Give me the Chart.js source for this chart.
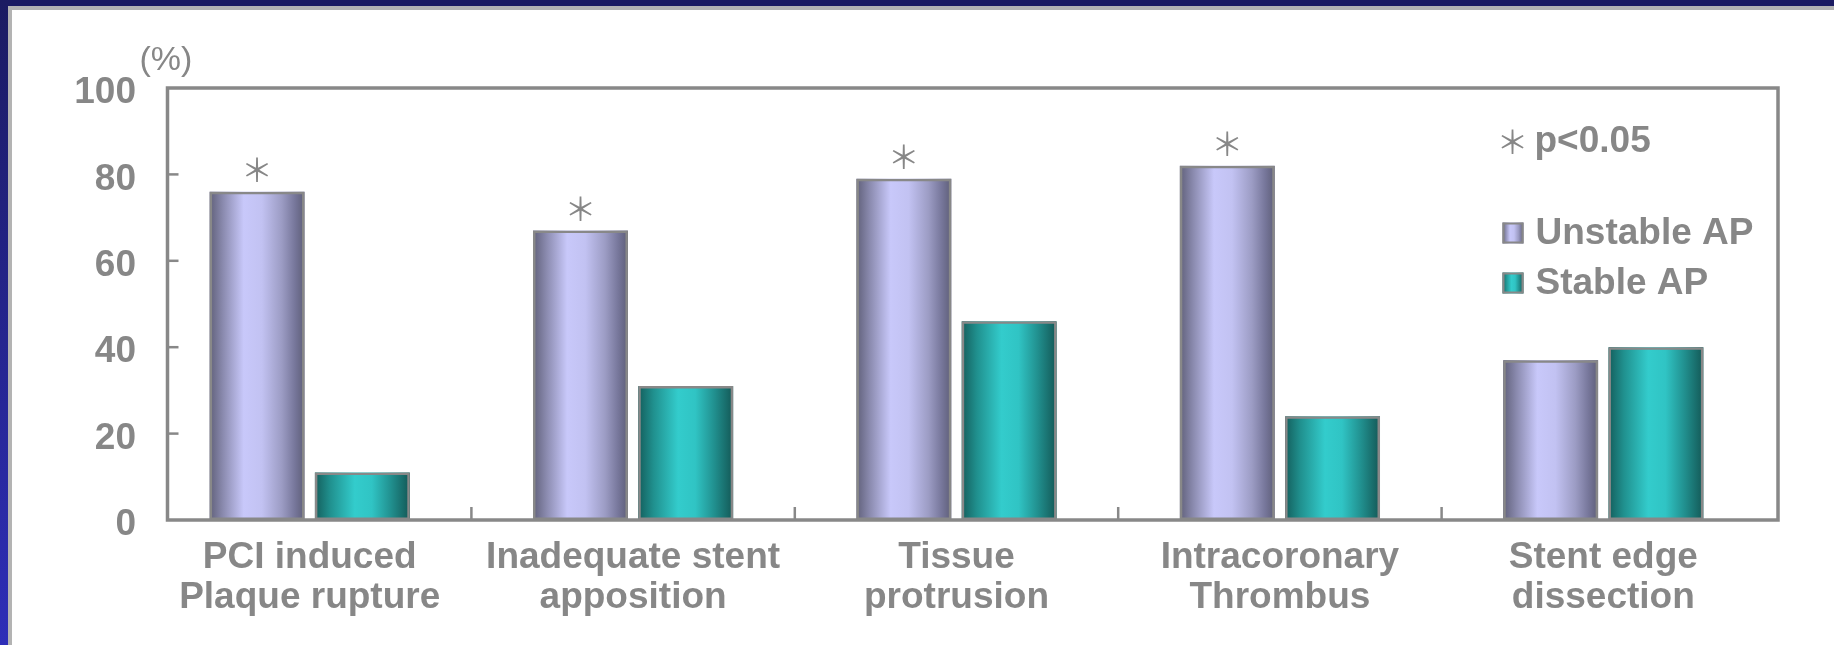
<!DOCTYPE html>
<html>
<head>
<meta charset="utf-8">
<title>Unstable vs Stable AP</title>
<script src="https://cdn.jsdelivr.net/npm/chart.js@4/dist/chart.umd.min.js"></script>
<style>
  html, body { margin: 0; padding: 0; background: #ffffff; }
  #wrap { position: relative; width: 1834px; height: 645px; overflow: hidden; background: #ffffff; }
  .band-top  { position: absolute; left: 0; top: 0; width: 1834px; height: 6px; background: #1b1b62; }
  .line-top  { position: absolute; left: 0; top: 6px; width: 1834px; height: 4px; background: #b3b3b3; }
  .band-left { position: absolute; left: 0; top: 0; width: 8px; height: 645px; background: linear-gradient(#1b1b62, #2e2eb8); }
  .line-left { position: absolute; left: 8px; top: 10px; width: 4px; height: 635px; background: #b3b3b3; }
  canvas { position: absolute; left: 0; top: 0; }
</style>
</head>
<body>
<div id="wrap">
  <div class="band-top"></div>
  <div class="line-top"></div>
  <div class="band-left"></div>
  <div class="line-left"></div>
  <canvas id="chart" width="1834" height="645"></canvas>
</div>
<script>
// ---- data ----
const categories = [
  ['PCI induced', 'Plaque rupture'],
  ['Inadequate stent', 'apposition'],
  ['Tissue', 'protrusion'],
  ['Intracoronary', 'Thrombus'],
  ['Stent edge', 'dissection']
];
const seriesNames = ['Unstable AP', 'Stable AP'];
const unstableAP = [76, 67, 79, 82, 37];
const stableAP = [11, 31, 46, 24, 40];
const significant = [true, true, true, true, false];
const yTickValues = [0, 20, 40, 60, 80, 100];
const yUnitLabel = '(%)';
const sigNote = 'p<0.05';
const sigMark = '\uFF0A';

// ---- styling ----
const TEXT = '#878787';
const LINE = '#888888';
const SANS = '"Liberation Sans", Arial, sans-serif';
const MARK_FONT = '"Noto Sans CJK JP", "DejaVu Sans", sans-serif';

// horizontal cylinder shading for each series
const shading = [
  [[0, '#60607a'], [0.14, '#8a8aae'], [0.36, '#c8c8fa'], [0.55, '#c2c2f2'], [0.76, '#9c9cc4'], [0.9, '#76769a'], [1, '#5e5e78']],
  [[0, '#145e5c'], [0.16, '#20908e'], [0.42, '#33cccc'], [0.6, '#30c4c4'], [0.8, '#21908f'], [1, '#135856']]
];

function shadeFill(ctx, left, width, stops) {
  const g = ctx.createLinearGradient(left, 0, left + width, 0);
  stops.forEach(([o, c]) => g.addColorStop(o, c));
  return g;
}

// frame of the plot box relative to the category band
const frameInset = { left: 19.5, right: 13 };

function frameBox(chart) {
  const y = chart.scales.y, a = chart.chartArea;
  return {
    left: a.left + frameInset.left,
    right: a.right + frameInset.right,
    top: y.getPixelForValue(y.max),
    bottom: y.getPixelForValue(y.min)
  };
}

// fills the bars with the cylinder shading before their outlines are drawn
const barShading = {
  id: 'barShading',
  beforeDatasetsDraw(chart) {
    const ctx = chart.ctx;
    chart.data.datasets.forEach((ds, di) => {
      const meta = chart.getDatasetMeta(di);
      meta.data.forEach(el => {
        const p = el.getProps(['x', 'y', 'base', 'width'], true);
        const left = p.x - p.width / 2;
        ctx.save();
        ctx.fillStyle = shadeFill(ctx, left, p.width, shading[di]);
        ctx.fillRect(left, p.y, p.width, p.base - p.y);
        ctx.restore();
      });
    });
  }
};

// plot frame, inward tick marks, significance marks, unit label and legend
const decorations = {
  id: 'decorations',
  afterDatasetsDraw(chart) {
    const ctx = chart.ctx;
    const f = frameBox(chart);
    const xs = chart.scales.x, ys = chart.scales.y;

    ctx.save();
    ctx.strokeStyle = LINE;
    ctx.lineWidth = 3.5;
    ctx.lineJoin = 'miter';
    ctx.strokeRect(f.left, f.top, f.right - f.left, f.bottom - f.top);

    // y tick marks pointing into the plot
    ctx.lineWidth = 2.5;
    yTickValues.filter(v => v > ys.min && v < ys.max).forEach(v => {
      const py = ys.getPixelForValue(v);
      ctx.beginPath();
      ctx.moveTo(f.left, py);
      ctx.lineTo(f.left + 11, py);
      ctx.stroke();
    });
    // category separators on the baseline
    for (let i = 0; i < categories.length - 1; i++) {
      const px = (xs.getPixelForValue(i) + xs.getPixelForValue(i + 1)) / 2;
      ctx.beginPath();
      ctx.moveTo(px, f.bottom);
      ctx.lineTo(px, f.bottom - 13);
      ctx.stroke();
    }

    // significance marks over the unstable bars
    ctx.fillStyle = TEXT;
    ctx.textAlign = 'center';
    ctx.textBaseline = 'middle';
    ctx.font = '32px ' + MARK_FONT;
    const meta0 = chart.getDatasetMeta(0);
    meta0.data.forEach((el, i) => {
      if (!significant[i]) return;
      const p = el.getProps(['x', 'y'], true);
      ctx.fillText(sigMark, p.x, p.y - 22);
    });

    // unit label above the axis
    ctx.textAlign = 'left';
    ctx.font = '34px ' + SANS;
    ctx.fillText(yUnitLabel, f.left - 28, f.top - 27);

    // legend block
    const lx = f.right - 275.5;
    ctx.font = '32px ' + MARK_FONT;
    ctx.textAlign = 'center';
    ctx.fillText(sigMark, lx + 10, f.top + 54);
    ctx.textAlign = 'left';
    ctx.font = 'bold 37px ' + SANS;
    ctx.fillText(sigNote, lx + 32, f.top + 54);

    const rows = [f.top + 145, f.top + 195];
    seriesNames.forEach((name, i) => {
      const cy = rows[i];
      const s = 21;
      ctx.fillStyle = shadeFill(ctx, lx, s, shading[i]);
      ctx.fillRect(lx, cy - s / 2, s, s);
      ctx.strokeStyle = LINE;
      ctx.lineWidth = 2;
      ctx.strokeRect(lx + 1, cy - s / 2 + 1, s - 2, s - 2);
      ctx.fillStyle = TEXT;
      ctx.font = 'bold 37px ' + SANS;
      ctx.fillText(name, lx + 33, cy + 1);
    });
    ctx.restore();
  }
};

Chart.defaults.font.family = SANS;
Chart.defaults.color = TEXT;

new Chart(document.getElementById('chart'), {
  type: 'bar',
  data: {
    labels: categories,
    datasets: [
      { label: seriesNames[0], data: unstableAP },
      { label: seriesNames[1], data: stableAP }
    ].map(d => Object.assign(d, {
      backgroundColor: 'rgba(0,0,0,0)',
      borderColor: LINE,
      borderWidth: 2.5,
      borderSkipped: false,
      categoryPercentage: 0.651,
      barPercentage: 0.902
    }))
  },
  options: {
    responsive: false,
    animation: false,
    events: [],
    layout: { padding: { top: 88, right: 69, left: 0, bottom: 0 } },
    plugins: { legend: { display: false }, tooltip: { enabled: false } },
    scales: {
      x: {
        grid: { display: false, drawTicks: false },
        border: { display: false },
        ticks: {
          color: TEXT,
          font: { size: 37, weight: 'bold', lineHeight: 1.08 },
          padding: 18,
          maxRotation: 0,
          autoSkip: false
        },
        afterFit(s) { s.height = 125; }
      },
      y: {
        min: 0,
        max: 100,
        afterBuildTicks(s) { s.ticks = yTickValues.map(v => ({ value: v })); },
        grid: { display: false, drawTicks: false },
        border: { display: false },
        ticks: {
          color: TEXT,
          font: { size: 37, weight: 'bold' },
          padding: 12,
          labelOffset: 5
        },
        afterFit(s) { s.width = 148; }
      }
    }
  },
  plugins: [barShading, decorations]
});
</script>
</body>
</html>
